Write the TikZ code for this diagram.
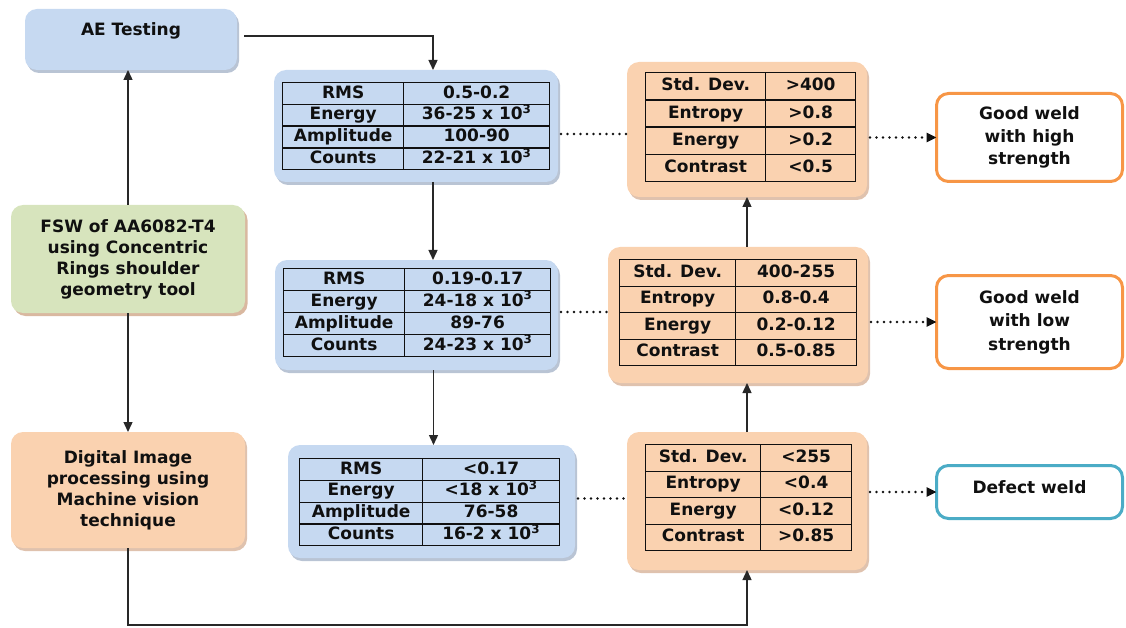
\documentclass[tikz,border=0pt]{standalone}
\usepackage{fontspec}
\setmainfont{DejaVu Sans}
\usetikzlibrary{matrix,arrows.meta,shadows}

\definecolor{boxblue}{HTML}{C6D9F1}
\definecolor{boxorange}{HTML}{FAD2B0}
\definecolor{boxgreen}{HTML}{D7E4BD}
\definecolor{edgeorange}{HTML}{F79646}
\definecolor{edgecyan}{HTML}{4BACC6}
\definecolor{ink}{HTML}{101010}
\definecolor{shadeblue}{HTML}{8A9CB8}
\definecolor{shadeorange}{HTML}{C99A78}

\tikzset{
  panel/.style={rounded corners=12pt, inner sep=0pt, outer sep=0pt,
    align=center, text=ink},
  bluepanel/.style={panel, fill=boxblue,
    drop shadow={shadow xshift=2pt, shadow yshift=-3pt, fill=shadeblue, opacity=0.6}},
  orangepanel/.style={panel, fill=boxorange,
    drop shadow={shadow xshift=2pt, shadow yshift=-3pt, fill=shadeorange, opacity=0.6}},
  greenpanel/.style={panel, fill=boxgreen,
    drop shadow={shadow xshift=2.5pt, shadow yshift=-3pt, fill=shadeorange, opacity=0.7}},
  resultbox/.style={panel, draw=#1, line width=3pt, fill=white},
  tbl/.style={matrix of nodes, inner sep=0pt, outer sep=0pt,
    column sep=-1.3pt, row sep=-1.3pt, anchor=north west,
    nodes={draw=ink, line width=1.3pt, inner sep=0pt, outer sep=0pt,
      text=ink, text height=12.5pt, text depth=3.5pt, anchor=center}},
  link/.style={draw=ink!90, line width=1.4pt,
    -{Triangle[length=10pt,width=9pt]}},
  dotline/.style={draw=ink, line width=2.7pt, line cap=round,
    dash pattern=on 0pt off 6.5pt},
  dotarrow/.style={dotline, -{Triangle[length=10pt,width=9pt]}},
}

\begin{document}
\begin{tikzpicture}[x=1pt,y=-1pt, font=\fontsize{17}{21}\selectfont\bfseries]
\useasboundingbox (0,0) rectangle (1126,628);

% ---- left column: process steps
\node[bluepanel, minimum width=212pt, text height=27pt, text depth=34pt]
  (ae) at (131,39.5) {AE Testing};
\node[greenpanel, minimum width=234pt, minimum height=108pt]
  (fsw) at (128,259) {FSW of AA6082-T4\\using Concentric\\Rings shoulder\\geometry tool};
\node[orangepanel, minimum width=234pt, minimum height=116pt]
  (dig) at (128,490) {Digital Image\\processing using\\Machine vision\\technique};

% ---- AE parameter panels
\node[bluepanel, minimum width=284pt, minimum height=112pt] (b1) at (416,126) {};
\node[bluepanel, minimum width=283pt, minimum height=110pt] (b2) at (416.5,315) {};
\node[bluepanel, minimum width=287pt, minimum height=113pt] (b3) at (431.5,501.5) {};

\matrix (t1) [tbl, nodes={minimum height=21.75pt},
  column 1/.style={nodes={minimum width=121pt}},
  column 2/.style={nodes={minimum width=146pt}}] at (282,82) {
  RMS & 0.5-0.2 \\
  Energy & 36-25 x 10\textsuperscript{3} \\
  Amplitude & 100-90 \\
  Counts & 22-21 x 10\textsuperscript{3} \\
};
\matrix (t2) [tbl, nodes={minimum height=22pt},
  column 1/.style={nodes={minimum width=121pt}},
  column 2/.style={nodes={minimum width=146pt}}] at (283,268) {
  RMS & 0.19-0.17 \\
  Energy & 24-18 x 10\textsuperscript{3} \\
  Amplitude & 89-76 \\
  Counts & 24-23 x 10\textsuperscript{3} \\
};
\matrix (t3) [tbl, nodes={minimum height=21.75pt},
  column 1/.style={nodes={minimum width=123pt}},
  column 2/.style={nodes={minimum width=137pt}}] at (299,458) {
  RMS & <0.17 \\
  Energy & <18 x 10\textsuperscript{3} \\
  Amplitude & 76-58 \\
  Counts & 16-2 x 10\textsuperscript{3} \\
};

% ---- image texture panels
\node[orangepanel, minimum width=240pt, minimum height=135pt] (o1) at (747,129.5) {};
\node[orangepanel, minimum width=260pt, minimum height=136pt] (o2) at (738,315) {};
\node[orangepanel, minimum width=240pt, minimum height=138pt] (o3) at (747,501) {};

\matrix (u1) [tbl, nodes={minimum height=27.25pt},
  column 1/.style={nodes={minimum width=120pt}},
  column 2/.style={nodes={minimum width=90pt}}] at (645,72) {
  Std. Dev. & >400 \\
  Entropy & >0.8 \\
  Energy & >0.2 \\
  Contrast & <0.5 \\
};
\matrix (u2) [tbl, nodes={minimum height=26.5pt},
  column 1/.style={nodes={minimum width=116pt}},
  column 2/.style={nodes={minimum width=121pt}}] at (619,259) {
  Std. Dev. & 400-255 \\
  Entropy & 0.8-0.4 \\
  Energy & 0.2-0.12 \\
  Contrast & 0.5-0.85 \\
};
\matrix (u3) [tbl, nodes={minimum height=26.5pt},
  column 1/.style={nodes={minimum width=115pt}},
  column 2/.style={nodes={minimum width=91pt}}] at (645,444) {
  Std. Dev. & <255 \\
  Entropy & <0.4 \\
  Energy & <0.12 \\
  Contrast & >0.85 \\
};

% ---- weld quality outcomes
\node[resultbox=edgeorange, minimum width=186pt, minimum height=88pt,
  font=\fontsize{17}{22.5}\selectfont\bfseries]
  (out1) at (1029.5,137.5) {Good weld\\with high\\strength};
\node[resultbox=edgeorange, minimum width=186pt, minimum height=93pt,
  font=\fontsize{17}{23.5}\selectfont\bfseries]
  (out2) at (1029.5,322) {Good weld\\with low\\strength};
\node[resultbox=edgecyan, minimum width=186pt, text height=27.5pt, text depth=25.5pt]
  (out3) at (1029.5,492) {Defect weld};

% ---- process flow
\draw[link] (fsw.north) -- (fsw.north |- ae.south);
\draw[link] (fsw.south) -- (fsw.south |- dig.north);
\draw[link] ([xshift=7pt,yshift=3.5pt]ae.east) -| ([xshift=17pt]b1.north);
\draw[link] ([xshift=17pt]b1.south) -- ([xshift=17pt]b1.south |- b2.north);
\draw[link] ([xshift=17pt]b2.south) -- ([xshift=17pt]b2.south |- b3.north);
\draw[link] (dig.south) -- ++(0,77) -| (o3.south);
\draw[link] (o3.north) -- (o3.north |- o2.south);
\draw[link] (o1.south |- o2.north) -- (o1.south);

% ---- correspondence between AE ranges and texture ranges
\draw[dotline] ([xshift=3pt,yshift=-8pt]b1.east) -- ([yshift=-8pt]b1.east -| o1.west);
\draw[dotline] ([xshift=3pt,yshift=3pt]b2.east) -- ([yshift=3pt]b2.east -| o2.west);
\draw[dotline] ([xshift=3pt,yshift=3pt]b3.east) -- ([yshift=3pt]b3.east -| o3.west);

% ---- texture ranges leading to weld quality
\draw[dotarrow] ([xshift=3pt]o1.east |- out1.west) -- (out1.west);
\draw[dotarrow] ([xshift=3pt]o2.east |- out2.west) -- (out2.west);
\draw[dotarrow] ([xshift=3pt]o3.east |- out3.west) -- (out3.west);
\end{tikzpicture}
\end{document}
